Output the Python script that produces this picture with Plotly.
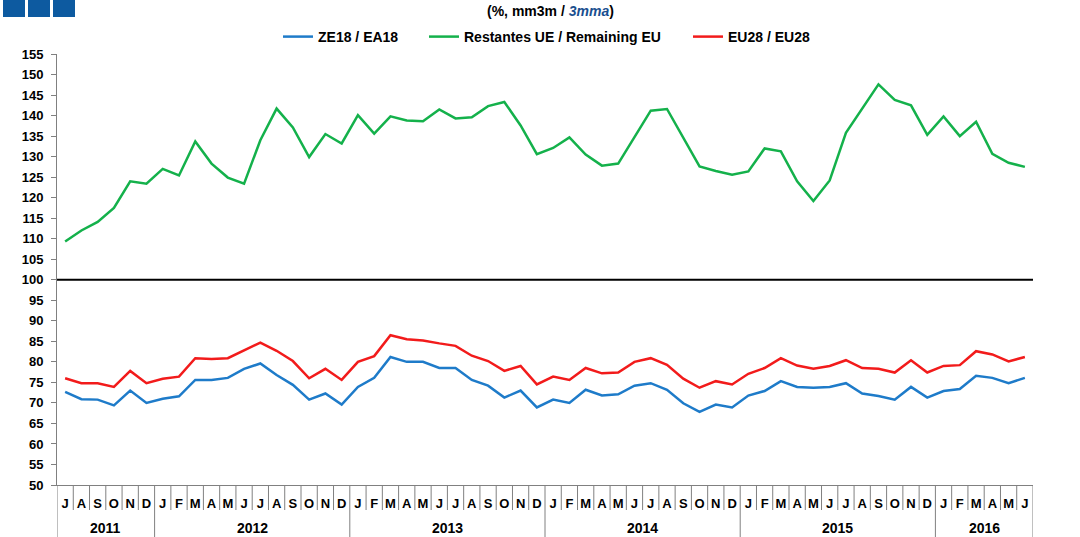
import plotly.graph_objects as go

# ---------------- data ----------------
months = ["J","A","S","O","N","D"] + ["J","F","M","A","M","J","J","A","S","O","N","D"] * 4 + ["J","F","M","A","M","J"]
years = ["2011"] * 6 + ["2012"] * 12 + ["2013"] * 12 + ["2014"] * 12 + ["2015"] * 12 + ["2016"] * 6
year_labels = ["2011", "2012", "2013", "2014", "2015", "2016"]

ea18 = [72.7, 70.9, 70.8, 69.4, 73.0, 70.0, 71.0, 71.6, 75.6, 75.6, 76.1, 78.3,
        79.6, 76.8, 74.4, 70.8, 72.3, 69.6, 73.9, 76.1, 81.2, 80.0, 80.0, 78.5,
        78.5, 75.6, 74.2, 71.3, 73.0, 68.9, 70.8, 70.0, 73.2, 71.8, 72.1, 74.2,
        74.8, 73.2, 69.9, 67.8, 69.6, 68.9, 71.8, 72.9, 75.3, 73.9, 73.7, 73.9,
        74.8, 72.3, 71.7, 70.8, 73.9, 71.3, 72.9, 73.4, 76.6, 76.1, 74.8, 76.1]

remaining_eu = [109.3, 112.0, 114.1, 117.5, 124.0, 123.4, 127.0, 125.4, 133.7, 128.3, 124.9, 123.4,
                134.0, 141.7, 137.1, 129.9, 135.5, 133.2, 140.1, 135.6, 139.8, 138.8, 138.6, 141.5,
                139.3, 139.6, 142.3, 143.3, 137.6, 130.6, 132.1, 134.7, 130.5, 127.8, 128.3, 134.8,
                141.2, 141.6, 134.6, 127.6, 126.5, 125.6, 126.4, 132.0, 131.3, 124.0, 119.2, 124.2,
                135.8, 141.7, 147.6, 143.8, 142.5, 135.3, 139.8, 135.0, 138.5, 130.7, 128.5, 127.5]

eu28 = [76.0, 74.8, 74.8, 73.9, 77.8, 74.8, 75.9, 76.4, 80.9, 80.7, 80.9, 82.9,
        84.7, 82.7, 80.2, 76.0, 78.3, 75.6, 80.0, 81.4, 86.5, 85.5, 85.2, 84.5,
        83.9, 81.5, 80.2, 77.8, 79.0, 74.5, 76.4, 75.6, 78.5, 77.2, 77.4, 80.0,
        80.9, 79.3, 75.9, 73.7, 75.3, 74.5, 77.1, 78.5, 80.9, 79.1, 78.3, 79.0,
        80.4, 78.5, 78.3, 77.4, 80.4, 77.4, 79.0, 79.2, 82.6, 81.8, 80.1, 81.2]

y_ticks = list(range(50, 156, 5))
reference_level = 100

# unique category keys (year-month)
keys = [f"{y}-{i}" for i, y in enumerate(years)]

FONT = "Liberation Sans, Arial, sans-serif"
GRAY = "#808080"
W, H = 1080, 537
L, R, T, B = 57, 47, 54, 52
PW, PH = W - L - R, H - T - B


def px_x(x):
    return (x - L) / PW


def px_y(y):
    return (H - B - y) / PH


fig = go.Figure()
fig.add_trace(go.Scatter(x=keys, y=ea18, mode="lines", name="ZE18 / EA18", legend="legend",
                         line=dict(color="#1e7bc9", width=2.5)))
fig.add_trace(go.Scatter(x=keys, y=remaining_eu, mode="lines", name="Restantes UE / Remaining EU",
                         legend="legend2", line=dict(color="#14b14b", width=2.5)))
fig.add_trace(go.Scatter(x=keys, y=eu28, mode="lines", name="EU28 / EU28", legend="legend3",
                         line=dict(color="#f21b1b", width=2.5)))

n = len(keys)
shapes = []
# reference line at 100
shapes.append(dict(type="line", xref="paper", yref="y", x0=0, x1=1, y0=reference_level, y1=reference_level,
                   line=dict(color="black", width=2.2), layer="above"))
# month separators
for i in range(1, n):
    big = years[i] != years[i - 1]
    shapes.append(dict(type="line", xref="x", yref="paper", x0=i - 0.5, x1=i - 0.5,
                       y0=0, y1=(px_y(H) if big else px_y(510)),
                       line=dict(color=GRAY, width=1)))
# outer borders extended down
for xv in (-0.5, n - 0.5):
    shapes.append(dict(type="line", xref="x", yref="paper", x0=xv, x1=xv, y0=0, y1=px_y(H),
                       line=dict(color=GRAY, width=1)))
# blue squares top-left
for a, b in [(3, 25), (28, 50), (53, 75)]:
    shapes.append(dict(type="rect", xref="paper", yref="paper",
                       x0=px_x(a), x1=px_x(b), y0=px_y(17), y1=px_y(0),
                       fillcolor="#0d5aa0", line=dict(width=0)))

annotations = []
# year labels
for yl in year_labels:
    idx = [i for i, y in enumerate(years) if y == yl]
    annotations.append(dict(x=(idx[0] + idx[-1]) / 2, y=px_y(528), xref="x", yref="paper",
                            text=f"<b>{yl}</b>", showarrow=False, yanchor="middle",
                            font=dict(family=FONT, size=14, color="black")))
# subtitle
annotations.append(dict(x=px_x(550), y=px_y(11), xref="paper", yref="paper",
                        text="<b>(%, mm3m / <i><span style='color:#1a4f8f'>3mma</span></i>)</b>",
                        showarrow=False, yanchor="middle",
                        font=dict(family=FONT, size=14, color="black")))

legend_font = dict(family=FONT, size=14, color="black", weight="bold")


def leg(xpx):
    return dict(orientation="h", x=px_x(xpx), xanchor="left", y=px_y(37), yanchor="middle",
                font=legend_font, bgcolor="rgba(0,0,0,0)", itemwidth=30, borderwidth=0)


fig.update_layout(
    width=W, height=H,
    margin=dict(l=L, r=R, t=T, b=B),
    paper_bgcolor="white", plot_bgcolor="white",
    font=dict(family=FONT, size=13, color="black"),
    showlegend=True,
    legend=leg(278),
    legend2=leg(424),
    legend3=leg(688),
    shapes=shapes,
    annotations=annotations,
    xaxis=dict(type="category", range=[-0.5, n - 0.5], tickmode="array", tickvals=keys, ticktext=months,
               showline=True, linecolor=GRAY, linewidth=1, ticks="", showgrid=False, zeroline=False,
               tickfont=dict(family=FONT, size=13, color="black", weight="bold"),
               ticklabelstandoff=6),
    yaxis=dict(range=[50, 155], tickmode="array", tickvals=y_ticks, showline=True, linecolor=GRAY,
               linewidth=1, ticks="outside", ticklen=5, tickcolor=GRAY, showgrid=False, zeroline=False,
               tickfont=dict(family=FONT, size=13, color="black", weight="bold"), ticklabelstandoff=5),
    yaxis2=dict(range=[50, 155], tickmode="array", tickvals=y_ticks, overlaying="y", side="right",
                showline=True, linecolor=GRAY, linewidth=1, ticks="outside", ticklen=5, tickcolor=GRAY,
                showgrid=False, zeroline=False,
                tickfont=dict(family=FONT, size=13, color="black", weight="bold"), ticklabelstandoff=5),
)

fig.write_html("out.html", config={"displayModeBar": False},
               post_script="document.body.style.margin='0';document.body.style.padding='0';")
